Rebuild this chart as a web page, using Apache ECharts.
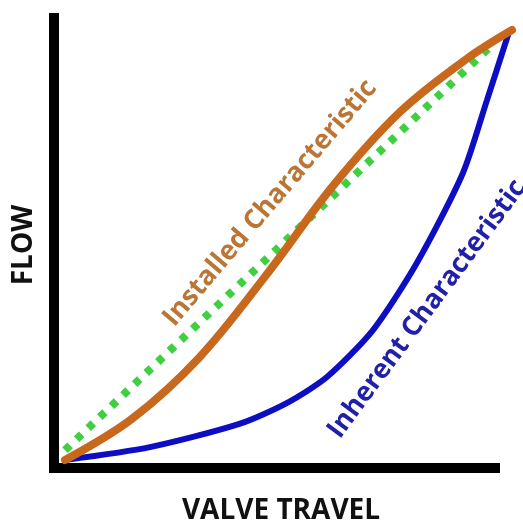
<!DOCTYPE html>
<html>
<head>
<meta charset="utf-8">
<script src="https://cdn.jsdelivr.net/npm/echarts@6/dist/echarts.min.js"></script>
<style>
html,body{margin:0;padding:0;background:#fff;}
#chart{width:523px;height:525px;}
</style>
</head>
<body>
<div id="chart"></div>
<script>
// Data (valve travel %, flow %)
const linearRef = [[0, 2.3], [96, 97]];
const installed = [[0,0],[15,9.6],[30,23.8],[45,43],[60,63.8],[75,81],[90,93.4],[100,100]];
const inherent = [[0,0],[19,3.0],[39,8.4],[49.7,13.3],[58.6,19.3],[68.9,30.2],[78.7,45.8],[89,66.7],[94.4,83.7],[99.1,98.8]];
const xTitle = 'VALVE TRAVEL';
const yTitle = 'FLOW';
const installedLabel = 'Installed Characteristic';
const inherentLabel = 'Inherent Characteristic';

const chart = echarts.init(document.getElementById('chart'));
const deg = Math.PI / 180;
const font = '"Open Sans", "DejaVu Sans", sans-serif';
const hiddenAxis = {show: false};
chart.setOption({
  animation: false,
  backgroundColor: '#fff',
  grid: [
    {left: 54, right: 28, top: 18, bottom: 57},   // drawn axes
    {left: 54, right: 8, top: 18, bottom: 57}     // data area (curves run past the axis end)
  ],
  xAxis: [
    {
      type: 'value', gridIndex: 0, min: -2.46, max: 96.2,
      axisLine: {show: true, onZero: false, lineStyle: {color: '#000', width: 10, cap: 'square'}},
      axisTick: {show: false}, axisLabel: {show: false}, splitLine: {show: false}
    },
    {type: 'value', gridIndex: 1, min: -2.46, max: 100.67, show: false, splitLine: hiddenAxis}
  ],
  yAxis: [
    {
      type: 'value', gridIndex: 0, min: -1.86, max: 102.79,
      axisLine: {show: true, onZero: false, lineStyle: {color: '#000', width: 10, cap: 'square'}},
      axisTick: {show: false}, axisLabel: {show: false}, splitLine: {show: false}
    },
    {type: 'value', gridIndex: 1, min: -1.86, max: 102.79, show: false, splitLine: hiddenAxis}
  ],
  series: [
    {
      type: 'line', xAxisIndex: 1, yAxisIndex: 1, data: linearRef, clip: false, symbol: 'none', z: 3,
      lineStyle: {color: '#3fd03f', width: 8, type: [7, 9], cap: 'butt'}
    },
    {
      type: 'line', xAxisIndex: 1, yAxisIndex: 1, data: inherent, clip: false, symbol: 'none', smooth: 0.25, z: 4,
      lineStyle: {color: '#0d0dc4', width: 6, cap: 'round'}
    },
    {
      type: 'line', xAxisIndex: 1, yAxisIndex: 1, data: installed, clip: false, symbol: 'none',
      smooth: 0.35, z: 5,
      lineStyle: {color: '#c8681c', width: 8, cap: 'round'}
    }
  ],
  graphic: [
    {type: 'text', x: 281, y: 511, z: 10,
     style: {text: xTitle, fill: '#111', font: 'bold 28px ' + font, textAlign: 'center', textVerticalAlign: 'middle'}},
    {type: 'text', x: 24, y: 245, rotation: 90 * deg, z: 10,
     style: {text: yTitle, fill: '#111', font: 'bold 28px ' + font, textAlign: 'center', textVerticalAlign: 'middle'}},
    {type: 'text', x: 270, y: 203, rotation: 49.6 * deg, z: 10,
     style: {text: installedLabel, fill: '#bb7636', font: 'bold 27px ' + font, textAlign: 'center', textVerticalAlign: 'middle'}},
    {type: 'text', x: 427, y: 309, rotation: 53.5 * deg, z: 10,
     style: {text: inherentLabel, fill: '#2020a8', font: 'bold 27px ' + font, textAlign: 'center', textVerticalAlign: 'middle'}}
  ]
});
</script>
</body>
</html>
